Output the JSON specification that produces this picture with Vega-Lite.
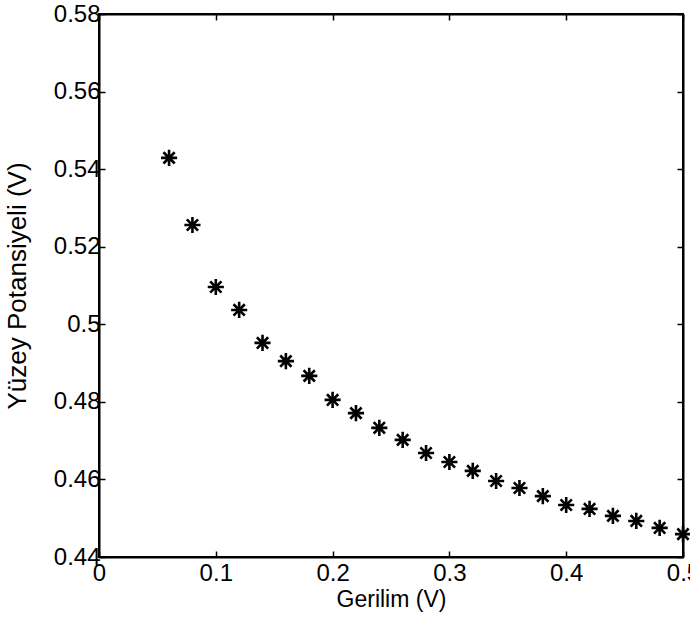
{
  "$schema": "https://vega.github.io/schema/vega-lite/v6.json",
  "width": 584,
  "height": 543,
  "autosize": "none",
  "padding": {"left": 99, "top": 14, "right": 7, "bottom": 69},
  "background": "white",
  "config": {
    "view": {"stroke": "black", "strokeWidth": 2},
    "axis": {
      "labelFont": "Arial",
      "titleFont": "Arial",
      "labelColor": "black",
      "titleColor": "black",
      "titleFontWeight": "normal",
      "domainColor": "black",
      "domainWidth": 2,
      "tickColor": "black",
      "tickWidth": 1.5,
      "tickSize": -6,
      "grid": false
    }
  },
  "data": {
    "values": [
      {"v": 0.06, "p": 0.5429},
      {"v": 0.08, "p": 0.5256},
      {"v": 0.10, "p": 0.5096},
      {"v": 0.12, "p": 0.5037},
      {"v": 0.14, "p": 0.4952},
      {"v": 0.16, "p": 0.4905},
      {"v": 0.18, "p": 0.4867},
      {"v": 0.20, "p": 0.4805},
      {"v": 0.22, "p": 0.4771},
      {"v": 0.24, "p": 0.4733},
      {"v": 0.26, "p": 0.4702},
      {"v": 0.28, "p": 0.4668},
      {"v": 0.30, "p": 0.4645},
      {"v": 0.32, "p": 0.4622},
      {"v": 0.34, "p": 0.4596},
      {"v": 0.36, "p": 0.4578},
      {"v": 0.38, "p": 0.4557},
      {"v": 0.40, "p": 0.4534},
      {"v": 0.42, "p": 0.4524},
      {"v": 0.44, "p": 0.4506},
      {"v": 0.46, "p": 0.4493},
      {"v": 0.48, "p": 0.4475},
      {"v": 0.50, "p": 0.4459}
    ]
  },
  "layer": [
    {
      "mark": {"type": "point", "shape": "M-1,0L1,0M0,-1L0,1M-0.7,-0.7L0.7,0.7M-0.7,0.7L0.7,-0.7", "stroke": "black", "strokeWidth": 2.6, "size": 260, "filled": false, "opacity": 1, "clip": false},
      "encoding": {
        "x": {
          "field": "v", "type": "quantitative",
          "scale": {"domain": [0, 0.5], "nice": false, "zero": false},
          "axis": {"title": "Gerilim (V)", "labelFontSize": 24, "titleFontSize": 23, "values": [0, 0.1, 0.2, 0.3, 0.4, 0.5], "labelPadding": 10, "titlePadding": 3, "labelFlush": false, "labelExpr": "datum.value == 0 ? '0' : format(datum.value, '.1~f')"}
        },
        "y": {
          "field": "p", "type": "quantitative",
          "scale": {"domain": [0.44, 0.58], "nice": false, "zero": false},
          "axis": {"title": "Yüzey Potansiyeli (V)", "labelFontSize": 24, "titleFontSize": 26, "values": [0.44, 0.46, 0.48, 0.5, 0.52, 0.54, 0.56, 0.58], "labelPadding": 5, "titlePadding": 23, "labelFlush": false, "labelExpr": "format(datum.value, '.2~f')"}
        }
      }
    },
    {
      "mark": {"type": "point", "opacity": 0},
      "encoding": {
        "x": {"field": "v", "type": "quantitative", "axis": {"orient": "top", "labels": false, "title": null, "values": [0, 0.1, 0.2, 0.3, 0.4, 0.5]}},
        "y": {"field": "p", "type": "quantitative", "axis": {"orient": "right", "labels": false, "title": null, "values": [0.44, 0.46, 0.48, 0.5, 0.52, 0.54, 0.56, 0.58]}}
      }
    }
  ],
  "resolve": {"axis": {"x": "independent", "y": "independent"}}
}
